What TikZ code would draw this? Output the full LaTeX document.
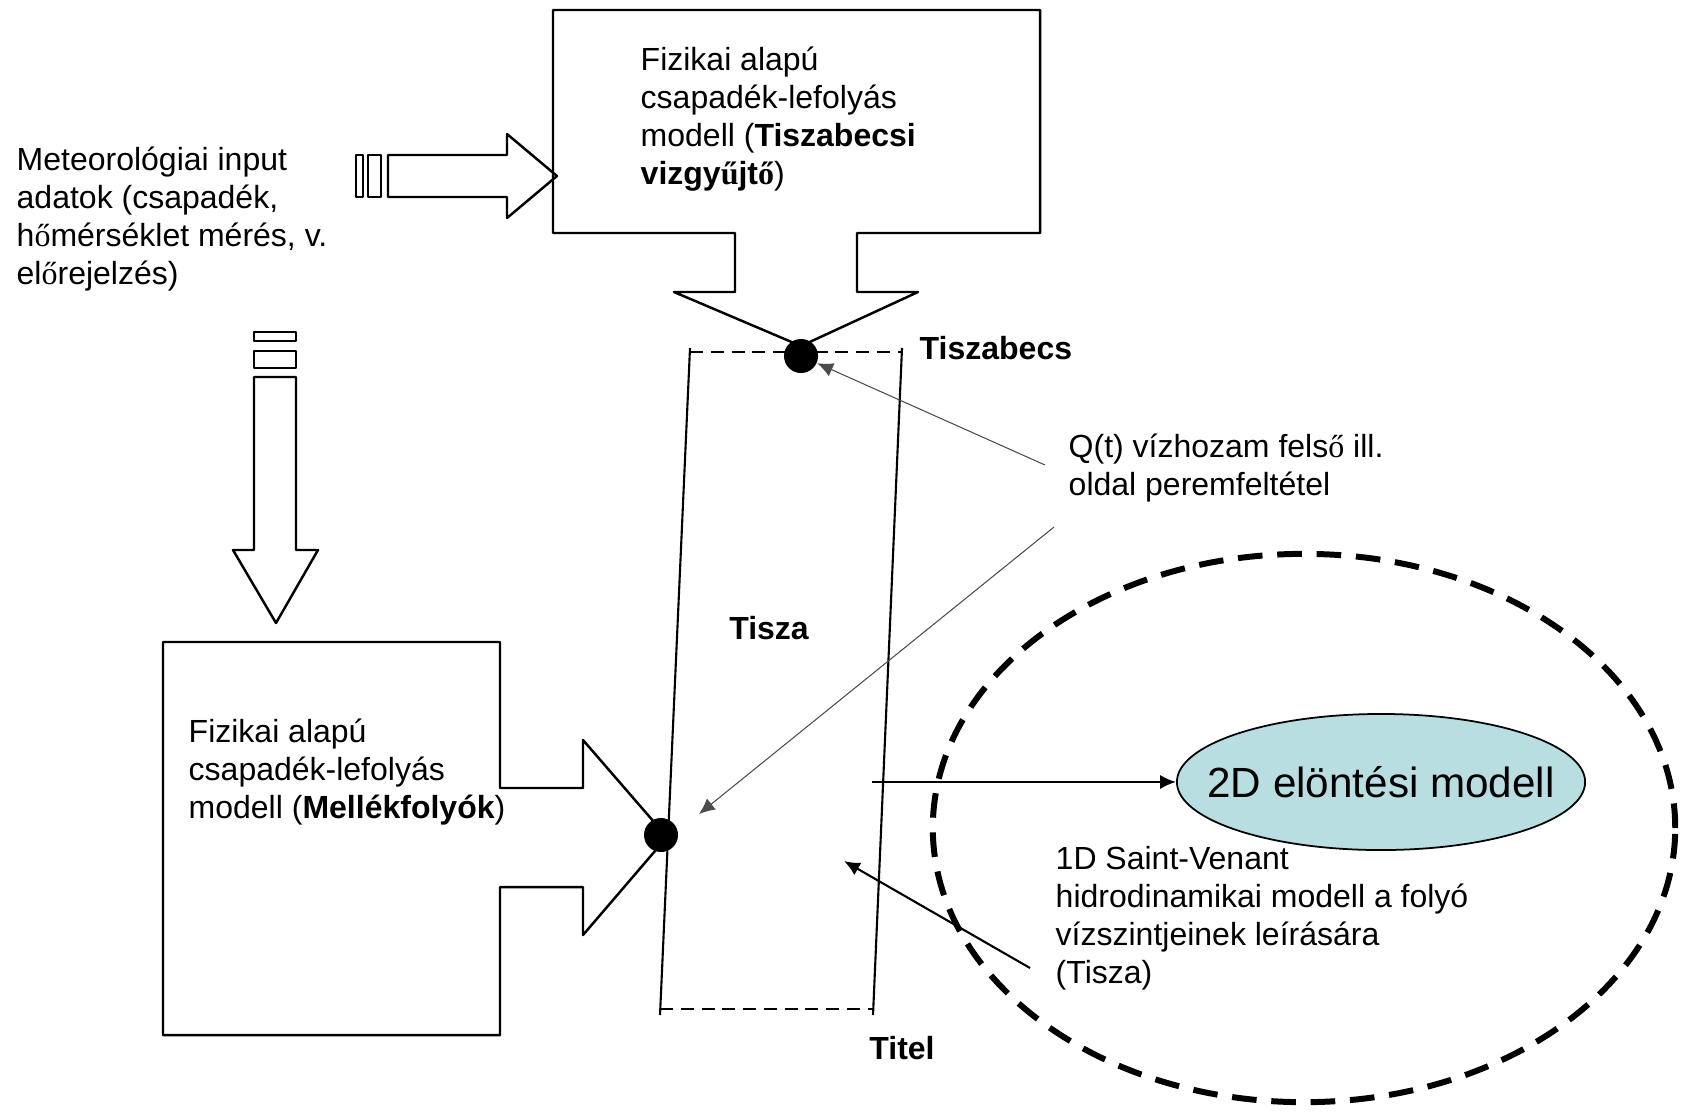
\documentclass[tikz,border=0pt]{standalone}
\usepackage{fontspec}
\setmainfont{Liberation Sans}
\newfontfamily\oldglyph{Liberation Serif}
\newcommand{\og}[1]{{\oldglyph #1}}
\usetikzlibrary{arrows.meta,shapes.geometric}
\definecolor{floodfill}{RGB}{184,222,226}

\begin{document}
\begin{tikzpicture}[x=0.01cm, y=-0.01cm, line join=round, >={Latex[length=4.5pt,width=4pt]},
  outline/.style={line width=0.7pt},
  bank/.style={line width=0.6pt},
  txt/.style={inner sep=0pt, anchor=north west, align=left, font=\fontsize{9.1}{10.8}\selectfont},
  lbl/.style={inner sep=0pt, font=\fontsize{9.1}{10.8}\selectfont\bfseries},
  gauge/.style={circle, fill, inner sep=0pt, minimum size=0.34cm},
  qline/.style={line width=0.3pt, black!70},
  link/.style={line width=0.6pt}]
\useasboundingbox (0,0) rectangle (1686,1112);

% upper catchment model with its outflow arrow
\draw[outline] (735,233) -- (553,233) -- (553,10) -- (1040,10) -- (1040,233) -- (857,233)
  -- (857,292) -- (918,292) -- (801,346) -- (674,292) -- (735,292) -- cycle;
% tributaries model
\draw[outline] (500,788) -- (583,788) -- (583,740) -- (667,837) -- (583,935) -- (583,887)
  -- (500,887) -- (500,1035) -- (163,1035) -- (163,642) -- (500,642) -- cycle;

% striped input arrows
\draw[outline] (356,155) rectangle (363,197) (368,155) rectangle (381,197);
\draw[outline] (388,155) -- (507,155) -- (507,134) -- (557,176) -- (507,218) -- (507,197) -- (388,197) -- cycle;
\draw[outline] (254,332) rectangle (296,341) (254,351) rectangle (296,368);
\draw[outline] (254,377) -- (254,550) -- (233,550) -- (276,623) -- (318,550) -- (296,550) -- (296,377) -- cycle;

% river reach
\draw[bank] (690,348) -- (660,1015) (902,348) -- (873,1015);
\draw[bank, dash pattern=on 3.7pt off 2.2pt] (690,352) -- (902,352) (660,1009) -- (873,1009);
\node[gauge] (dtop) at (801,356) {};
\node[gauge] (dbot) at (661,835) {};

% flood model
\draw[line width=1.7pt, dash pattern=on 7pt off 4.2pt] (1304,828) ellipse (3.71cm and 2.74cm);
\node[ellipse, draw, fill=floodfill, line width=0.5pt, minimum width=4.08cm, minimum height=1.36cm, inner sep=0pt,
  label={[font=\fontsize{12}{14}\selectfont]center:2D elöntési modell}] (flood) at (1381,782) {};

\node[txt] (meteo) at (16,146) {Meteorológiai input\\adatok (csapadék,\\h\og{ő}mérséklet mérés, v.\\el\og{ő}rejelzés)};
\node[txt] (upmodel) at (640,46) {Fizikai alapú\\csapadék-lefolyás\\modell (\textbf{Tiszabecsi}\\\textbf{vizgy\og{ű}jt\og{ő}})};
\node[txt] (tribmodel) at (188,718) {Fizikai alapú\\csapadék-lefolyás\\modell (\textbf{Mellékfolyók})};
\node[txt] (qlabel) at (1068,433) {Q(t) vízhozam fels\og{ő} ill.\\oldal peremfeltétel};
\node[txt] (svlabel) at (1055,846) {1D Saint-Venant\\hidrodinamikai modell a folyó\\vízszintjeinek leírására\\(Tisza)};
\node[lbl, anchor=west] (tiszabecs) at (919,348) {Tiszabecs};
\node[lbl] (tisza) at (769,628) {Tisza};
\node[lbl] (titel) at (902,1048) {Titel};

% boundary conditions and coupling
\coordinate (qa) at (1045,465);
\coordinate (qb) at (1054,527);
\coordinate (qbend) at (699,814);
\coordinate (rb) at (872,782);
\coordinate (sv) at (1030,968);
\coordinate (svend) at (844,861);
\draw[qline,->] (qa) -- (dtop);
\draw[qline,->] (qb) -- (qbend);
\draw[link,->] (rb) -- (flood);
\draw[link,->] (sv) -- (svend);
\end{tikzpicture}
\end{document}
